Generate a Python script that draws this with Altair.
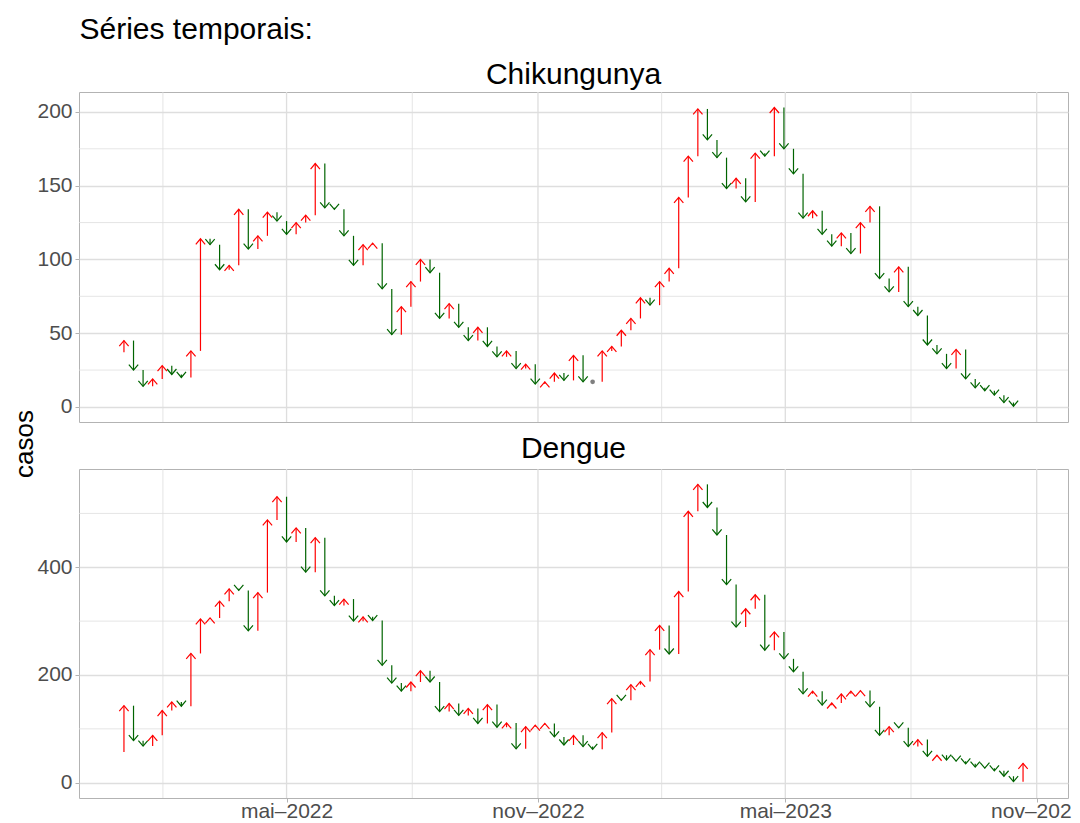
import altair as alt
import pandas as pd

# ---------------- data (weekly case counts) ----------------
first_week = "2022-01-02"

chik_start = 37
chik_cases = [45, 25, 14, 19, 28, 22, 20, 38, 114, 110,
              93, 96, 134, 107, 116, 132, 126, 117, 125, 130,
              165, 135, 134, 116, 96, 110, 111, 80, 49, 68,
              85, 100, 91, 60, 70, 54, 45, 54, 41, 34,
              38, 26, 29, 15.5, 17, 23, 18, 35, 17, 17,
              38, 41, 52, 60, 74, 69, 85, 94, 142, 170,
              202, 181, 169, 148, 155, 139, 172, 170, 203, 175,
              158, 128, 133, 117, 109, 118, 104, 125, 136, 87,
              78, 95, 68, 62, 42, 36, 26, 39, 19, 13,
              11, 8, 3, 0.5]

dengue_start = 57
dengue_cases = [143, 78, 68, 88, 134, 150, 142, 240, 304, 306,
                337, 360, 357, 282, 353, 488, 531, 447, 473, 391,
                455, 347, 329, 341, 300, 308, 301, 218, 185, 170,
                187, 208, 187, 132, 147, 125, 138, 110, 145, 103,
                111, 63, 104, 107, 110, 85, 70, 88, 67, 62,
                93, 156, 153, 182, 188, 247, 292, 239, 355, 504,
                554, 511, 460, 368, 289, 323, 349, 246, 280, 230,
                206, 165, 170, 144, 148, 165, 170, 171, 141, 88,
                104, 102, 67, 80, 49, 51, 42, 40, 35, 29,
                27, 22, 12, 2, 36]

x_breaks = ["2022-05-01", "2022-11-01", "2023-05-01", "2023-11-01"]
x_labels = ["mai–2022", "nov–2022", "mai–2023", "nov–2023"]
x_minor = ["2022-01-30T12:00:00Z", "2022-08-01", "2023-01-30T12:00:00Z", "2023-08-01"]
x_limits = ["2021-11-30T02:24:00Z", "2023-11-23T21:36:00Z"]

chik_breaks = [0, 50, 100, 150, 200]
chik_minor = [25, 75, 125, 175]
chik_limits = [-10.2, 213.5]

dengue_breaks = [0, 200, 400]
dengue_minor = [100, 300, 500]
dengue_limits = [-28.4, 582.5]

# ---------------- helpers ----------------
FONT = "Liberation Sans"
GRID = "#DEDEDE"
UP = "M -0.85 1 L 0 0 L 0.85 1"
DOWN = "M -0.85 -1 L 0 0 L 0.85 -1"


def ms(s):
    t = pd.Timestamp(s)
    if t.tzinfo is None:
        t = t.tz_localize("UTC")
    return int(t.value // 10**6)


x_dom = [ms(v) for v in x_limits]
x_vals = [ms(v) for v in x_breaks]
label_expr = " : ".join(
    f"abs(time(datum.value) - {v}) < 86400000 ? '{lab}'" for v, lab in zip(x_vals, x_labels)
) + " : ''"


def build(start, cases):
    dates = pd.date_range(first_week, periods=len(cases), freq="7D").strftime("%Y-%m-%d")
    prev = [start] + list(cases[:-1])
    dirs = ["up" if c > p else ("down" if c < p else "same") for c, p in zip(cases, prev)]
    return pd.DataFrame({"date": list(dates), "prev": prev, "cases": cases, "dir": dirs})


def panel(df, name, ydom, ybreaks, yminor, height, show_x, title_offset, extra=None):
    xscale = alt.Scale(type="utc", domain=x_dom, nice=False)
    yscale = alt.Scale(domain=ydom, nice=False, zero=False)
    if show_x:
        xaxis = alt.Axis(values=x_vals, labelExpr=label_expr, grid=False, domain=False,
                         tickColor="#B3B3B3", tickSize=4, tickWidth=1,
                         labelFontSize=21, labelFont=FONT, labelColor="#4D4D4D",
                         labelPadding=-2, title=None, labelOverlap=False)
    else:
        xaxis = None
    yaxis = alt.Axis(values=ybreaks, grid=True, gridColor=GRID, gridWidth=1.3,
                     domain=False, tickColor="#B3B3B3", tickSize=4, tickWidth=1,
                     labelFontSize=21, labelFont=FONT, labelColor="#4D4D4D",
                     labelPadding=3, title=None)

    xmin = alt.Chart(pd.DataFrame({"d": x_minor})).mark_rule(
        color=GRID, strokeWidth=0.8).encode(x=alt.X("d:T", scale=xscale, axis=xaxis, title=None))
    xmaj = alt.Chart(pd.DataFrame({"d": x_breaks})).mark_rule(
        color=GRID, strokeWidth=1.3).encode(x=alt.X("d:T", scale=xscale, axis=xaxis, title=None))
    ymin = alt.Chart(pd.DataFrame({"v": yminor})).mark_rule(
        color=GRID, strokeWidth=0.8).encode(y=alt.Y("v:Q", scale=yscale, axis=yaxis, title=None))

    color = alt.Color("dir:N", scale=alt.Scale(domain=["up", "down"], range=["#FF0000", "#006400"]),
                      legend=None)
    base = alt.Chart(df)
    moved = base.transform_filter("datum.dir != 'same'")
    shafts = moved.mark_rule(strokeWidth=1.2).encode(
        x=alt.X("date:T", scale=xscale, axis=xaxis, title=None),
        y=alt.Y("prev:Q", scale=yscale, axis=yaxis, title=None),
        y2="cases:Q",
        color=color,
    )
    heads = moved.mark_point(filled=False, size=121, strokeWidth=1.2, opacity=1).encode(
        x=alt.X("date:T", scale=xscale, axis=xaxis, title=None),
        y=alt.Y("cases:Q", scale=yscale, axis=yaxis, title=None),
        shape=alt.Shape("dir:N", scale=alt.Scale(domain=["up", "down"], range=[UP, DOWN]), legend=None),
        color=color,
    )
    same = base.transform_filter("datum.dir == 'same'").mark_circle(
        size=22, color="#7F7F7F", opacity=1).encode(
        x=alt.X("date:T", scale=xscale, axis=xaxis, title=None),
        y=alt.Y("cases:Q", scale=yscale, axis=yaxis, title=None),
    )
    layers = [xmin, xmaj, ymin, shafts, heads, same]
    if extra is not None:
        layers.append(extra)
    return alt.layer(*layers).properties(
        width=989, height=height,
        title=alt.TitleParams(name, fontSize=30, font=FONT, fontWeight="normal", color="black",
                              anchor="middle", frame="group", offset=title_offset),
    )


ylab = alt.Chart(pd.DataFrame({"t": ["casos"]})).mark_text(
    angle=270, fontSize=26, font=FONT, color="black", baseline="middle", align="center"
).encode(text="t:N", x=alt.value(-54), y=alt.value(352))

chik = panel(build(chik_start, chik_cases), "Chikungunya", chik_limits, chik_breaks, chik_minor,
             330, False, 1, extra=ylab)
dengue = panel(build(dengue_start, dengue_cases), "Dengue", dengue_limits, dengue_breaks, dengue_minor,
               329, True, 4)

chart = alt.vconcat(chik, dengue, spacing=47, bounds="flush").properties(
    title=alt.TitleParams("Séries temporais:", fontSize=30, font=FONT, fontWeight="normal",
                          color="black", anchor="start", dx=68, offset=15),
    padding={"left": 3, "top": 6, "right": -12, "bottom": 0},
).configure_view(stroke="#B3B3B3", strokeWidth=1)

chart.save("out.html", embed_options={"renderer": "svg", "actions": False})
